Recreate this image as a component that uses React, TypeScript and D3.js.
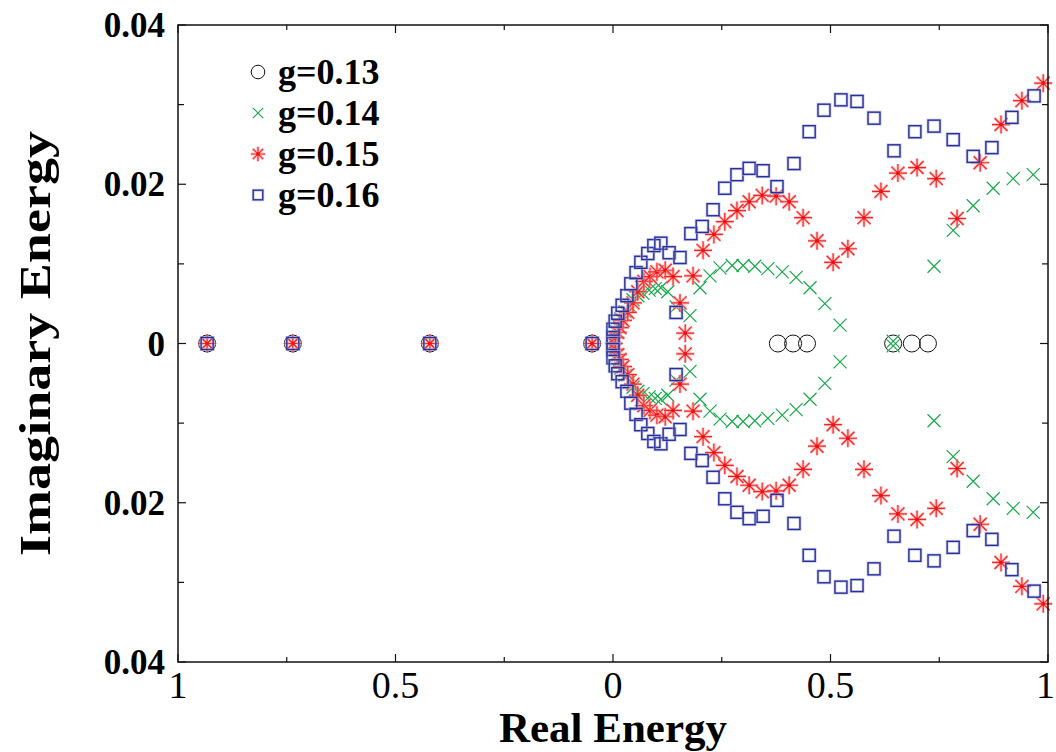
import React from 'react';
import * as d3 from 'd3';

// [real, imag] readings; complex pairs are listed by their upper member only
const realAxis = [-0.933, -0.736, -0.421, -0.048];
const g13Extra = [0.379, 0.414, 0.446, 0.644, 0.687, 0.724];

const g14Upper = [
  [0.002, 0.00075], [0.007, 0.0015], [0.011, 0.0023], [0.018, 0.0031], [0.028, 0.004],
  [0.037, 0.0048], [0.046, 0.0055], [0.057, 0.006], [0.069, 0.0063], [0.083, 0.0067],
  [0.097, 0.0069], [0.11, 0.007], [0.126, 0.0065], [0.145, 0.0046], [0.177, 0.0035],
  [0.2, 0.007], [0.223, 0.0085], [0.246, 0.0095], [0.274, 0.0098], [0.299, 0.0098],
  [0.326, 0.0097], [0.356, 0.0094], [0.389, 0.009], [0.421, 0.0083], [0.453, 0.007],
  [0.487, 0.005], [0.522, 0.0023], [0.644, 0.0003], [0.738, 0.0097], [0.782, 0.0142],
  [0.828, 0.0173], [0.874, 0.0195], [0.92, 0.0207], [0.966, 0.0212],
];

const g15Upper = [
  [0.005, 0.00075], [0.011, 0.0014], [0.016, 0.002], [0.023, 0.0029], [0.034, 0.0039],
  [0.046, 0.0051], [0.057, 0.0065], [0.071, 0.0078], [0.085, 0.0084], [0.101, 0.009],
  [0.12, 0.0092], [0.138, 0.0084], [0.154, 0.0051], [0.166, 0.0013], [0.184, 0.0085],
  [0.207, 0.0117], [0.232, 0.0137], [0.257, 0.0153], [0.285, 0.0167], [0.313, 0.0178],
  [0.343, 0.0186], [0.375, 0.0185], [0.405, 0.0178], [0.437, 0.0158], [0.469, 0.0129],
  [0.506, 0.0102], [0.54, 0.0119], [0.577, 0.0158], [0.616, 0.0191], [0.655, 0.0214],
  [0.699, 0.0221], [0.743, 0.0207], [0.791, 0.0157], [0.844, 0.0227], [0.892, 0.0275],
  [0.94, 0.0305], [0.989, 0.0327],
];

const g16Upper = [
  [0.0, 0.00075], [0.0, 0.0018], [0.005, 0.0028], [0.011, 0.0038], [0.021, 0.0048],
  [0.032, 0.006], [0.041, 0.0075], [0.053, 0.0089], [0.064, 0.0102], [0.08, 0.0113],
  [0.094, 0.0123], [0.11, 0.0126], [0.129, 0.0114], [0.145, 0.0039], [0.154, 0.0108],
  [0.179, 0.0138], [0.205, 0.0147], [0.23, 0.0168], [0.257, 0.0195], [0.285, 0.0212],
  [0.313, 0.022], [0.345, 0.0217], [0.377, 0.0197], [0.416, 0.0226], [0.451, 0.0266],
  [0.485, 0.0293], [0.524, 0.0306], [0.561, 0.0304], [0.6, 0.0283], [0.646, 0.0242],
  [0.694, 0.0266], [0.738, 0.0273], [0.782, 0.0256], [0.828, 0.0235], [0.871, 0.0246],
  [0.917, 0.0284], [0.968, 0.0311],
];

const legendLabels = ['g=0.13', 'g=0.14', 'g=0.15', 'g=0.16'];
const xTicks = [-1, -0.5, 0, 0.5, 1];
const yTicks = [-0.04, -0.02, 0, 0.02, 0.04];

const margin = { left: 178, right: 8, top: 25, bottom: 90 };
const W = 1056, H = 752;

// add the conjugate partner of every pair
const withConj = (pts: number[][]) => pts.flatMap(([re, im]) => [[re, im], [re, -im]]);
const onAxis = (xs: number[]) => xs.map((re) => [re, 0]);

const series = [
  { label: legendLabels[0], kind: 'circle', pts: onAxis([...realAxis, ...g13Extra]) },
  { label: legendLabels[1], kind: 'x', pts: [...onAxis([...realAxis, 0.002]), ...withConj(g14Upper)] },
  { label: legendLabels[2], kind: 'star', pts: [...onAxis([...realAxis, 0.002]), ...withConj(g15Upper)] },
  { label: legendLabels[3], kind: 'square', pts: [...onAxis([...realAxis, 0.0]), ...withConj(g16Upper)] },
];

function Marker({ kind, x, y, s = 1 }: { kind: string; x: number; y: number; s?: number }) {
  if (kind === 'circle') {
    return <circle cx={x} cy={y} r={8.5 * s} fill="none" stroke="#111" strokeWidth={1} />;
  }
  if (kind === 'x') {
    const r = 6.5 * s;
    return (
      <path d={`M${x - r},${y - r}L${x + r},${y + r}M${x - r},${y + r}L${x + r},${y - r}`}
        stroke="#17a84a" strokeWidth={1.2} />
    );
  }
  if (kind === 'star') {
    const r = 9 * s, d = 6.5 * s;
    const p = `M${x - r},${y}L${x + r},${y}M${x},${y - r}L${x},${y + r}M${x - d},${y - d}L${x + d},${y + d}M${x - d},${y + d}L${x + d},${y - d}`;
    return (
      <g>
        <path d={p} stroke="#f7a0a0" strokeWidth={3} opacity={0.6} />
        <path d={p} stroke="#f22" strokeWidth={1.2} />
        <circle cx={x} cy={y} r={1.8} fill="#e11" />
      </g>
    );
  }
  const h = 6 * s;
  return (
    <g>
      <rect x={x - h} y={y - h} width={2 * h} height={2 * h} fill="none" stroke="#aab0dd" strokeWidth={3} opacity={0.6} />
      <rect x={x - h} y={y - h} width={2 * h} height={2 * h} fill="none" stroke="#2a2e98" strokeWidth={1.4} />
    </g>
  );
}

export default function App() {
  const x = d3.scaleLinear().domain([-1, 1]).range([margin.left, W - margin.right]);
  const y = d3.scaleLinear().domain([-0.04, 0.04]).range([H - margin.bottom, margin.top]);
  const [x0, x1] = x.range();
  const [y0, y1] = y.range();

  const xMinor = d3.range(-1, 1.001, 0.25);
  const yMinor = d3.range(-0.04, 0.0401, 0.01);
  const font = '"Liberation Serif", "Times New Roman", serif';

  return (
    <svg width={W} height={H} style={{ position: 'absolute', left: 0, top: 0, background: '#fff' }}>
      <g stroke="#111" strokeWidth={1.2}>
        {xMinor.map((t, i) => {
          const len = Math.abs(t * 2 - Math.round(t * 2)) < 1e-6 ? 8 : 5;
          return (
            <g key={'xt' + i}>
              <line x1={x(t)} x2={x(t)} y1={y0} y2={y0 - len} />
              <line x1={x(t)} x2={x(t)} y1={y1} y2={y1 + len} />
            </g>
          );
        })}
        {yMinor.map((t, i) => {
          const len = i % 2 === 0 ? 8 : 6;
          return (
            <g key={'yt' + i}>
              <line x1={x0} x2={x0 + len} y1={y(t)} y2={y(t)} />
              <line x1={x1} x2={x1 - len} y1={y(t)} y2={y(t)} />
            </g>
          );
        })}
      </g>

      {series.map((s) => (
        <g key={s.label}>
          {s.pts.map(([re, im], i) => (
            <Marker key={i} kind={s.kind} x={x(re)} y={y(im)} />
          ))}
        </g>
      ))}

      <rect x={x0} y={y1} width={x1 - x0} height={y0 - y1} fill="none" stroke="#111" strokeWidth={1.5} />

      {xTicks.map((t) => (
        <text key={'xl' + t} x={t === 1 ? W - 1 : x(t)} y={y0 + 36}
          textAnchor={t === 1 ? 'end' : 'middle'} fontFamily={font} fontSize={38}>
          {d3.format('')(Math.abs(t))}
        </text>
      ))}
      {yTicks.map((t) => (
        <text key={'yl' + t} x={165} y={y(t) + 12} textAnchor="end" fontFamily={font} fontSize={35} fontWeight="bold">
          {t === 0 ? '0' : Math.abs(t).toFixed(2)}
        </text>
      ))}

      <text x={x(0)} y={742} textAnchor="middle" fontFamily={font} fontSize={43} fontWeight="bold">
        Real Energy
      </text>
      <text transform={`translate(50,${y(0)}) rotate(-90)`} textAnchor="middle" fontFamily={font}
        fontSize={44} fontWeight="bold" textLength={425} lengthAdjust="spacingAndGlyphs">
        Imaginary Energy
      </text>

      {series.map((s, i) => (
        <g key={'lg' + i} transform={`translate(0,${72 + i * 41})`}>
          <Marker kind={s.kind} x={258} y={0} s={0.8} />
          <text x={278} y={12} fontFamily={font} fontSize={36} fontWeight="bold">{s.label}</text>
        </g>
      ))}
    </svg>
  );
}
